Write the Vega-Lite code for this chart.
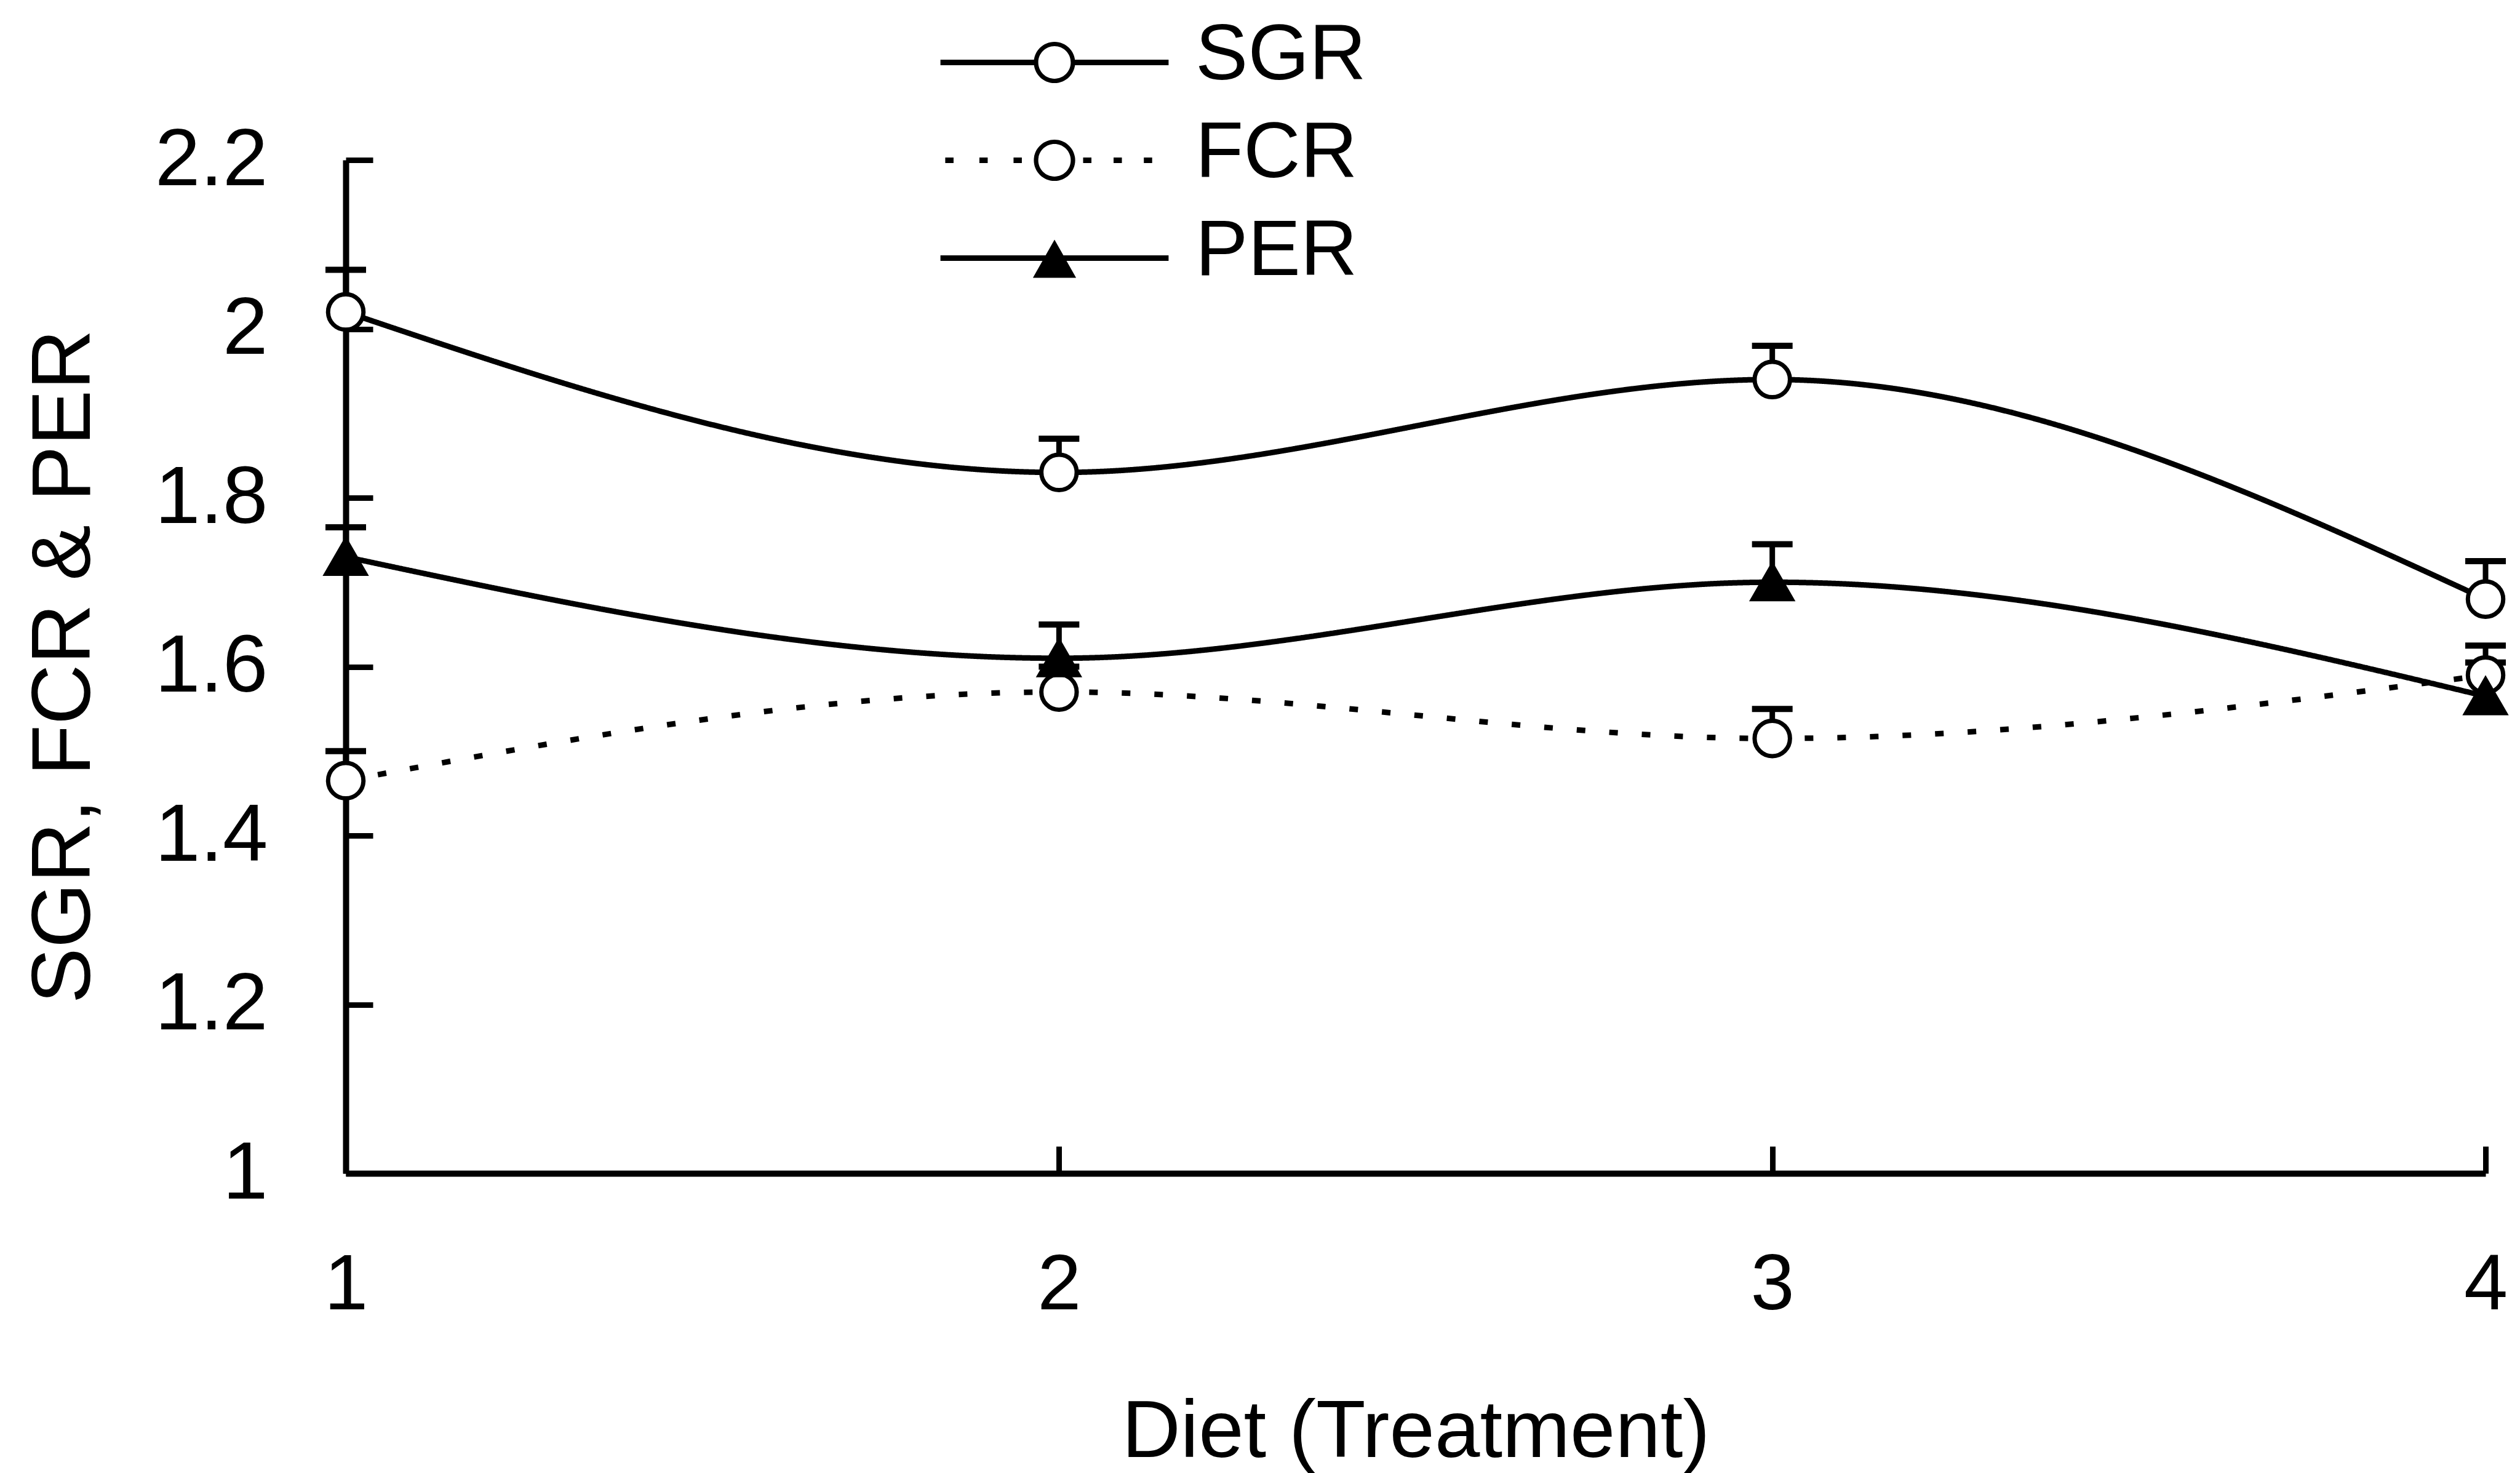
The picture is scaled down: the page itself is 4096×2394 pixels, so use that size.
{
  "$schema": "https://vega.github.io/schema/vega-lite/v6.json",
  "width": 3478,
  "height": 1647,
  "autosize": {"type": "none"},
  "padding": {"left": 562, "top": 260, "right": 56, "bottom": 487},
  "background": "white",
  "config": {"view": {"stroke": null}, "font": "Liberation Sans"},
  "data": {
    "values": [
      {"diet": 1, "series": "SGR", "value": 2.02, "upper": 2.07},
      {"diet": 2, "series": "SGR", "value": 1.83, "upper": 1.87},
      {"diet": 3, "series": "SGR", "value": 1.94, "upper": 1.98},
      {"diet": 4, "series": "SGR", "value": 1.68, "upper": 1.725},
      {"diet": 1, "series": "FCR", "value": 1.465, "upper": 1.5},
      {"diet": 2, "series": "FCR", "value": 1.57, "upper": 1.6},
      {"diet": 3, "series": "FCR", "value": 1.515, "upper": 1.55},
      {"diet": 4, "series": "FCR", "value": 1.59, "upper": 1.625},
      {"diet": 1, "series": "PER", "value": 1.73, "upper": 1.765},
      {"diet": 2, "series": "PER", "value": 1.61, "upper": 1.65},
      {"diet": 3, "series": "PER", "value": 1.7, "upper": 1.745},
      {"diet": 4, "series": "PER", "value": 1.565, "upper": 1.605}
    ]
  },
  "encoding": {
    "x": {
      "field": "diet",
      "type": "quantitative",
      "scale": {"domain": [1, 4], "nice": false, "zero": false},
      "axis": {
        "values": [1, 2, 3, 4],
        "format": "d",
        "title": "Diet (Treatment)",
        "grid": false,
        "domainColor": "black",
        "domainWidth": 10,
        "tickColor": "black",
        "tickWidth": 9,
        "tickSize": -44,
        "labelFont": "Liberation Sans",
        "labelFontSize": 128,
        "labelColor": "black",
        "labelPadding": 226,
        "labelBaseline": "middle",
        "labelFlush": false,
        "labelAngle": 0,
        "labelOverlap": false,
        "labelLimit": 1000,
        "titleFont": "Liberation Sans",
        "titleFontSize": 132,
        "titleFontWeight": "normal",
        "titleColor": "black",
        "titleBaseline": "alphabetic",
        "titleAlign": "center",
        "titleX": 1739,
        "titleY": 460,
        "titleLimit": 3000
      }
    }
  },
  "layer": [
    {
      "mark": {"type": "line", "interpolate": "monotone", "color": "black", "strokeWidth": 9},
      "encoding": {
        "y": {
          "field": "value",
          "type": "quantitative",
          "scale": {"domain": [1, 2.2], "nice": false, "zero": false},
          "axis": {
            "values": [1, 1.2, 1.4, 1.6, 1.8, 2, 2.2],
            "format": ".1~f",
            "title": "SGR, FCR & PER",
            "grid": false,
            "domainColor": "black",
            "domainWidth": 10,
            "tickColor": "black",
            "tickWidth": 9,
            "tickSize": -44,
            "labelFont": "Liberation Sans",
            "labelFontSize": 132,
            "labelColor": "black",
            "labelPadding": 171,
            "labelFlush": false,
            "labelOverlap": false,
            "labelLimit": 1000,
            "titleFont": "Liberation Sans",
            "titleFontSize": 136,
            "titleFontWeight": "normal",
            "titleColor": "black",
            "titleAngle": -90,
            "titleAlign": "center",
            "titleBaseline": "alphabetic",
            "titleX": -417,
            "titleY": 823,
            "titleLimit": 3000
          }
        },
        "detail": {"field": "series", "type": "nominal"},
        "strokeDash": {"condition": {"test": "datum.series === 'FCR'", "value": [14, 39]}, "value": [1, 0]}
      }
    },
    {
      "mark": {"type": "rule", "color": "black", "strokeWidth": 9},
      "encoding": {
        "y": {"field": "value", "type": "quantitative"},
        "y2": {"field": "upper"}
      }
    },
    {
      "mark": {"type": "tick", "orient": "horizontal", "color": "black", "thickness": 10, "size": 66, "opacity": 1},
      "encoding": {
        "y": {"field": "upper", "type": "quantitative"}
      }
    },
    {
      "mark": {"type": "point", "filled": true, "stroke": "black", "strokeWidth": 7, "opacity": 1},
      "encoding": {
        "y": {"field": "value", "type": "quantitative"},
        "fill": {"condition": {"test": "datum.series === 'PER'", "value": "black"}, "value": "white"},
        "size": {"condition": {"test": "datum.series === 'PER'", "value": 4000}, "value": 3300},
        "shape": {"condition": {"test": "datum.series === 'PER'", "value": "triangle-up"}, "value": "circle"}
      }
    },
    {
      "mark": {"type": "point", "filled": true, "color": "black", "opacity": 0},
      "encoding": {
        "y": {"field": "value", "type": "quantitative"},
        "shape": {
          "field": "series",
          "type": "nominal",
          "scale": {
            "domain": ["SGR", "FCR", "PER"],
            "range": [
              "M-6.18,0.2H-1V0.5H-6.18Z M1,0.2H6.18V0.5H1Z M1.12,0.35C1.12,0.9686 0.6186,1.47 0,1.47C-0.6186,1.47 -1.12,0.9686 -1.12,0.35C-1.12,-0.2686 -0.6186,-0.77 0,-0.77C0.6186,-0.77 1.12,-0.2686 1.12,0.35Z M0.88,0.35C0.88,-0.136 0.486,-0.53 0,-0.53C-0.486,-0.53 -0.88,-0.136 -0.88,0.35C-0.88,0.836 -0.486,1.23 0,1.23C0.486,1.23 0.88,0.836 0.88,0.35Z",
              "M-5.92,0.2h0.45v0.3h-0.45Z M-4.07,0.2h0.45v0.3h-0.45Z M-2.22,0.2h0.45v0.3h-0.45Z M1.55,0.2h0.45v0.3h-0.45Z M3.2,0.2h0.45v0.3h-0.45Z M4.84,0.2h0.45v0.3h-0.45Z M1.12,0.35C1.12,0.9686 0.6186,1.47 0,1.47C-0.6186,1.47 -1.12,0.9686 -1.12,0.35C-1.12,-0.2686 -0.6186,-0.77 0,-0.77C0.6186,-0.77 1.12,-0.2686 1.12,0.35Z M0.88,0.35C0.88,-0.136 0.486,-0.53 0,-0.53C-0.486,-0.53 -0.88,-0.136 -0.88,0.35C-0.88,0.836 -0.486,1.23 0,1.23C0.486,1.23 0.88,0.836 0.88,0.35Z",
              "M-6.18,0.2H6.18V0.5H-6.18Z M0,-0.65L1.17,1.42L-1.17,1.42Z"
            ]
          },
          "legend": {
            "orient": "none",
            "legendX": 1088,
            "legendY": -233,
            "title": null,
            "padding": 0,
            "symbolSize": 3600,
            "symbolStrokeWidth": 0,
            "symbolFillColor": "black",
            "symbolOpacity": 1,
            "symbolOffset": 0,
            "labelFont": "Liberation Sans",
            "labelFontSize": 128,
            "labelColor": "black",
            "labelOffset": 165,
            "labelLimit": 1000,
            "rowPadding": 31
          }
        }
      }
    }
  ]
}
